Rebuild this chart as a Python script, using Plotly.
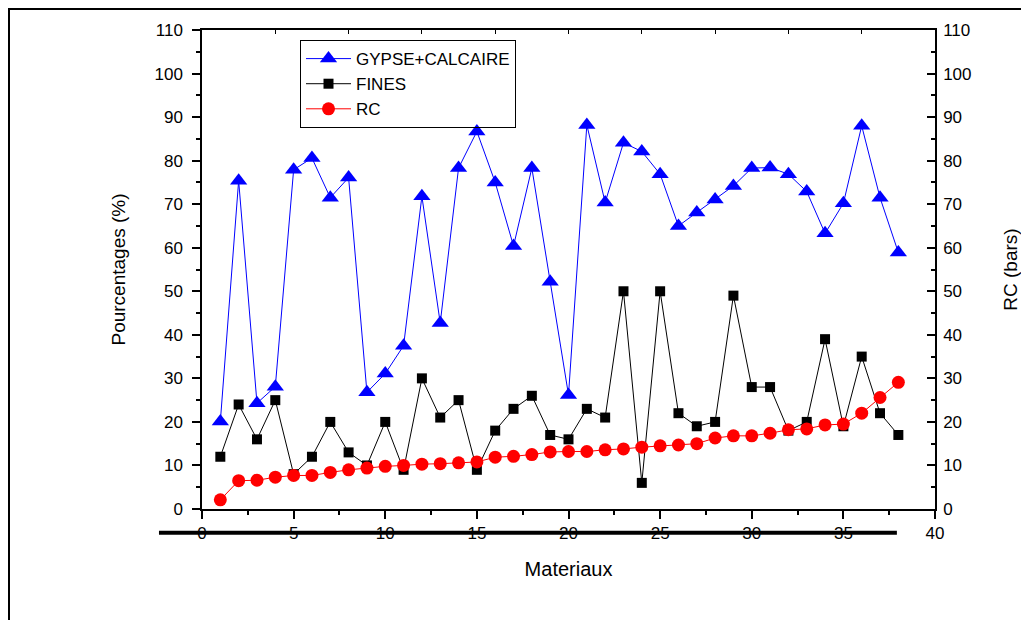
import plotly.graph_objects as go

materiaux = list(range(1, 39))
gypse_calcaire = [20.1, 75.4, 24.3, 28.1, 77.9, 80.6, 71.5, 76.1, 26.8, 31.1,
                  37.5, 71.8, 42.7, 78.3, 86.7, 75.0, 60.4, 78.3, 52.2, 26.2,
                  88.2, 70.4, 84.1, 82.1, 76.9, 65.0, 68.1, 71.1, 74.2, 78.3,
                  78.4, 76.9, 72.9, 63.3, 70.2, 88.0, 71.5, 58.9]
fines = [12, 24, 16, 25, 8, 12, 20, 13, 10, 20,
         9, 30, 21, 25, 9, 18, 23, 26, 17, 16,
         23, 21, 50, 6, 50, 22, 19, 20, 49, 28,
         28, 18, 20, 39, 19, 35, 22, 17]
rc = [2.1, 6.5, 6.6, 7.3, 7.7, 7.7, 8.4, 9.0, 9.4, 9.8,
      10.0, 10.3, 10.4, 10.6, 10.8, 11.9, 12.1, 12.5, 13.1, 13.2,
      13.2, 13.6, 13.8, 14.2, 14.5, 14.7, 15.0, 16.3, 16.8, 16.8,
      17.4, 18.2, 18.4, 19.3, 19.5, 22.0, 25.6, 29.1]

FONT = "Liberation Sans, Arial, sans-serif"

fig = go.Figure()
fig.add_trace(go.Scatter(x=materiaux, y=gypse_calcaire, name="GYPSE+CALCAIRE",
                         mode="lines+markers",
                         line=dict(color="#0000ff", width=1),
                         marker=dict(symbol="triangle-up", size=15, color="#0000ff")))
fig.add_trace(go.Scatter(x=materiaux, y=fines, name="FINES",
                         mode="lines+markers",
                         line=dict(color="#000000", width=1),
                         marker=dict(symbol="square", size=10, color="#000000")))
fig.add_trace(go.Scatter(x=materiaux, y=rc, name="RC", yaxis="y2",
                         mode="lines+markers",
                         line=dict(color="#ff0000", width=1),
                         marker=dict(symbol="circle", size=13, color="#ff0000")))
# invisible trace to activate the top axis
fig.add_trace(go.Scatter(x=[0, 40], y=[0, 0], xaxis="x2", mode="none",
                         showlegend=False, hoverinfo="skip"))

tickfont = dict(family=FONT, size=17, color="black")
fig.update_layout(
    width=1029, height=620,
    margin=dict(l=194, r=102, t=22, b=119),
    paper_bgcolor="white", plot_bgcolor="white",
    font=dict(family=FONT, color="black"),
    showlegend=True,
    legend=dict(x=0.1337, y=0.979, xanchor="left", yanchor="top",
                bordercolor="black", borderwidth=1, bgcolor="rgba(0,0,0,0)",
                font=dict(family=FONT, size=17), tracegroupgap=0,
                itemwidth=45),
    xaxis=dict(range=[0, 40], dtick=5, tick0=0, showgrid=False, zeroline=False,
               showline=True, linecolor="black", linewidth=1.5,
               ticks="outside", ticklen=8, tickwidth=1.5, tickcolor="black",
               minor=dict(dtick=2.5, ticks="outside", ticklen=4, tickwidth=1.5, tickcolor="black"),
               tickfont=tickfont, ticklabelstandoff=0,
               title=dict(text="Materiaux", font=dict(family=FONT, size=20), standoff=20)),
    xaxis2=dict(range=[0, 40], overlaying="x", side="top", dtick=4, tick0=0,
                showgrid=False, zeroline=False, showline=True, linecolor="black",
                linewidth=1.5, ticks="inside", ticklen=4, tickcolor="black",
                showticklabels=False),
    yaxis=dict(range=[0, 110], dtick=10, showgrid=False, zeroline=False,
               showline=True, linecolor="black", linewidth=1.5,
               ticks="outside", ticklen=8, tickwidth=1.5, tickcolor="black",
               minor=dict(dtick=5, ticks="outside", ticklen=4, tickwidth=1.5, tickcolor="black"),
               tickfont=tickfont, ticklabelstandoff=6,
               title=dict(text="Pourcentages (%)", font=dict(family=FONT, size=19), standoff=24)),
    yaxis2=dict(range=[0, 110], dtick=10, overlaying="y", side="right",
                showgrid=False, zeroline=False,
                showline=True, linecolor="black", linewidth=1.5,
                ticks="inside", ticklen=8, tickwidth=1.5, tickcolor="black",
                minor=dict(dtick=5, ticks="inside", ticklen=4, tickwidth=1.5, tickcolor="black"),
                tickfont=tickfont, ticklabelstandoff=3,
                title=dict(text="RC (bars)", font=dict(family=FONT, size=19), standoff=33)),
    shapes=[
        dict(type="rect", xref="paper", yref="paper", x0=-0.2633, x1=1.2,
             y0=-0.3, y1=1.0438, line=dict(color="black", width=2), layer="below"),
        dict(type="line", xref="paper", yref="paper", x0=-0.0587, x1=0.948,
             y0=-0.0495, y1=-0.0495, line=dict(color="black", width=4), layer="above"),
    ],
)

fig.write_html("out.html")
